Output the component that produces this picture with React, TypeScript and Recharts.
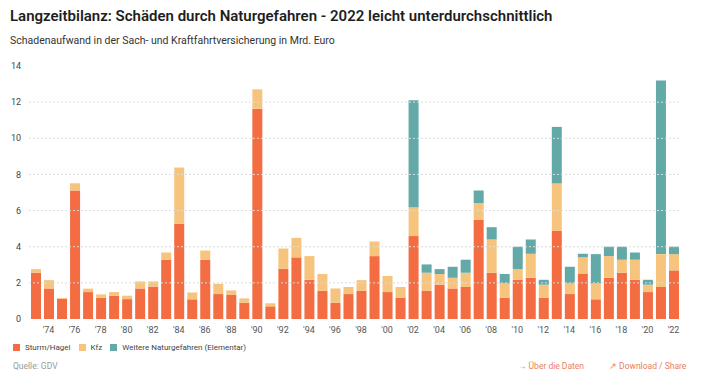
import React from "react";
import { BarChart, Bar, XAxis, YAxis, ReferenceLine } from "recharts";

// Schadenaufwand Naturgefahren 1973-2022, Mrd. Euro
const years = [
  1973, 1974, 1975, 1976, 1977, 1978, 1979, 1980, 1981, 1982,
  1983, 1984, 1985, 1986, 1987, 1988, 1989, 1990, 1991, 1992,
  1993, 1994, 1995, 1996, 1997, 1998, 1999, 2000, 2001, 2002,
  2003, 2004, 2005, 2006, 2007, 2008, 2009, 2010, 2011, 2012,
  2013, 2014, 2015, 2016, 2017, 2018, 2019, 2020, 2021, 2022,
];

const sturmHagel = [
  2.56, 1.69, 1.12, 7.11, 1.49, 1.18, 1.29, 1.1, 1.69, 1.79,
  3.28, 5.27, 1.09, 3.28, 1.38, 1.33, 0.9, 11.64, 0.7, 2.78,
  3.41, 2.17, 1.57, 0.9, 1.38, 1.57, 3.48, 1.49, 1.18, 4.59,
  1.57, 1.9, 1.69, 1.77, 5.49, 2.56, 1.18, 2.17, 2.28, 1.18,
  4.88, 1.38, 2.49, 1.09, 2.28, 2.56, 2.17, 1.49, 1.77, 2.69,
];

const kfz = [
  0.2, 0.46, 0.05, 0.4, 0.19, 0.18, 0.2, 0.19, 0.39, 0.29,
  0.4, 3.11, 0.38, 0.51, 0.57, 0.25, 0.24, 1.07, 0.17, 1.12,
  1.08, 1.31, 0.92, 0.79, 0.39, 0.58, 0.81, 0.89, 0.59, 1.6,
  0.99, 0.59, 0.59, 0.79, 0.92, 1.84, 0.79, 0.59, 1.33, 0.72,
  2.62, 0.59, 0.92, 0.88, 1.2, 0.72, 1.11, 0.41, 1.82, 0.9,
];

// Elementar erst ab 2002 ausgewiesen
const elementar = [
  0, 0, 0, 0, 0, 0, 0, 0, 0, 0,
  0, 0, 0, 0, 0, 0, 0, 0, 0, 0,
  0, 0, 0, 0, 0, 0, 0, 0, 0, 5.91,
  0.46, 0.27, 0.61, 0.72, 0.7, 0.68, 0.52, 1.24, 0.79, 0.27,
  3.13, 0.92, 0.2, 1.62, 0.52, 0.72, 0.4, 0.27, 9.61, 0.41,
];

const yTicks = [0, 2, 4, 6, 8, 10, 12, 14];
const gridLines = [2, 4, 6, 8, 10, 12];

const RED = "#f36c42";
const SAND = "#f7c47e";
const TEAL = "#62a9a8";

const data = years.map((y, i) => ({
  year: y,
  sturm: sturmHagel[i],
  kfz: kfz[i],
  elementar: elementar[i],
}));

const font = "Roboto, 'Noto Sans', sans-serif";

function LegendItem({ color, label }: { color: string; label: string }) {
  return (
    <span style={{ display: "inline-flex", alignItems: "center", marginRight: 8 }}>
      <span style={{ width: 7, height: 7, background: color, display: "inline-block", marginRight: 5 }} />
      <span>{label}</span>
    </span>
  );
}

export default function App() {
  return (
    <div
      style={{
        position: "absolute",
        left: 0,
        top: 0,
        width: 706,
        height: 386,
        background: "#fff",
        fontFamily: font,
        overflow: "hidden",
      }}
    >
      <div
        style={{
          position: "absolute",
          left: 10,
          top: 7,
          fontSize: 15,
          fontWeight: 600,
          color: "#1e1e1e",
          whiteSpace: "nowrap",
        }}
      >
        Langzeitbilanz: Schäden durch Naturgefahren - 2022 leicht unterdurchschnittlich
      </div>
      <div
        style={{
          position: "absolute",
          left: 10,
          top: 34,
          fontSize: 10.5,
          color: "#333",
          whiteSpace: "nowrap",
        }}
      >
        Schadenaufwand in der Sach- und Kraftfahrtversicherung in Mrd. Euro
      </div>

      <div style={{ position: "absolute", left: 0, top: 0 }}>
        <BarChart
          width={706}
          height={340}
          data={data}
          margin={{ top: 66, right: 26, left: 0, bottom: 1 }}
          barSize={10}
        >
          {gridLines.map((v) => (
            <ReferenceLine key={v} y={v} stroke="#dcdcdc" strokeDasharray="2 2" />
          ))}
          <XAxis
            dataKey="year"
            interval={0}
            axisLine={false}
            tickLine={false}
            height={20}
            tick={{ fontSize: 9, fill: "#555", fontFamily: font }}
            tickFormatter={(y: number) => (y % 2 === 0 ? "'" + String(y).slice(2) : "")}
          />
          <YAxis
            width={29}
            domain={[0, 14]}
            ticks={yTicks}
            axisLine={false}
            tickLine={false}
            tick={{ fontSize: 9, fill: "#444", fontFamily: font }}
          />
          <Bar dataKey="sturm" stackId="a" fill={RED} isAnimationActive={false} />
          <Bar dataKey="kfz" stackId="a" fill={SAND} isAnimationActive={false} />
          <Bar dataKey="elementar" stackId="a" fill={TEAL} isAnimationActive={false} />
        </BarChart>
      </div>

      <div
        style={{
          position: "absolute",
          left: 13,
          top: 343,
          fontSize: 8,
          color: "#444",
          display: "flex",
          whiteSpace: "nowrap",
        }}
      >
        <LegendItem color={RED} label="Sturm/Hagel" />
        <LegendItem color={SAND} label="Kfz" />
        <LegendItem color={TEAL} label="Weitere Naturgefahren (Elementar)" />
      </div>

      <div style={{ position: "absolute", left: 13, top: 361, fontSize: 8.5, color: "#999" }}>
        Quelle: GDV
      </div>
      <div style={{ position: "absolute", left: 518, top: 361, fontSize: 8.5, color: "#e8805e", whiteSpace: "nowrap" }}>
        → Über die Daten
      </div>
      <div style={{ position: "absolute", left: 609, top: 361, fontSize: 8.5, color: "#e8805e", whiteSpace: "nowrap" }}>
        ↗ Download / Share
      </div>
    </div>
  );
}
